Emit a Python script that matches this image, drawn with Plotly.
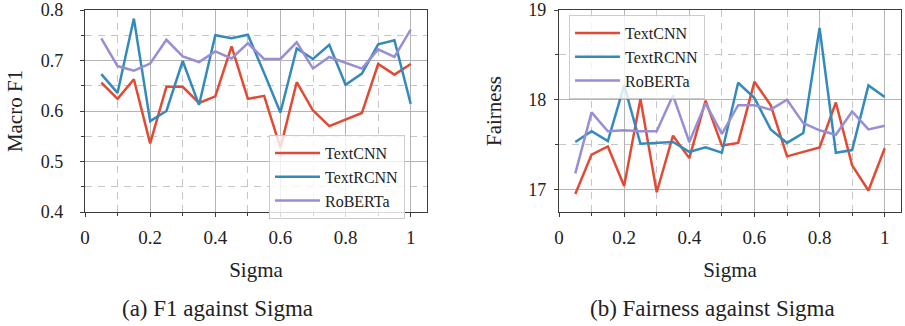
import plotly.graph_objects as go

# ---------------- data ----------------
sigma = [0.05, 0.10, 0.15, 0.20, 0.25, 0.30, 0.35, 0.40, 0.45, 0.50,
         0.55, 0.60, 0.65, 0.70, 0.75, 0.80, 0.85, 0.90, 0.95, 1.00]

f1_textcnn = [0.656, 0.624, 0.663, 0.536, 0.648, 0.648, 0.616, 0.629, 0.728, 0.624,
              0.630, 0.527, 0.657, 0.601, 0.570, 0.583, 0.596, 0.693, 0.672, 0.693]
f1_textrcnn = [0.673, 0.636, 0.783, 0.580, 0.600, 0.699, 0.612, 0.750, 0.744, 0.751,
               0.675, 0.597, 0.724, 0.703, 0.731, 0.652, 0.674, 0.732, 0.740, 0.614]
f1_roberta = [0.744, 0.689, 0.680, 0.694, 0.741, 0.708, 0.697, 0.718, 0.704, 0.734,
              0.703, 0.703, 0.736, 0.684, 0.707, 0.695, 0.684, 0.722, 0.707, 0.761]

fair_textcnn = [16.95, 17.39, 17.48, 17.04, 18.01, 16.97, 17.60, 17.35, 17.99, 17.49,
                17.52, 18.20, 17.94, 17.37, 17.42, 17.47, 17.97, 17.27, 16.99, 17.46]
fair_textrcnn = [17.53, 17.65, 17.54, 18.16, 17.51, 17.52, 17.53, 17.42, 17.47, 17.41,
                 18.19, 18.02, 17.67, 17.52, 17.63, 18.80, 17.41, 17.44, 18.16, 18.03]
fair_roberta = [17.18, 17.86, 17.65, 17.66, 17.65, 17.65, 18.05, 17.53, 17.96, 17.62,
                17.94, 17.94, 17.89, 18.00, 17.74, 17.66, 17.61, 17.87, 17.67, 17.71]

model_names = ["TextCNN", "TextRCNN", "RoBERTa"]
x_title = "Sigma"
y_titles = ["Macro F1", "Fairness"]
captions = ["(a) F1 against Sigma", "(b) Fairness against Sigma"]

# ---------------- style ----------------
colors = ["#E24A33", "#348ABD", "#988ED5"]
FONT = "Liberation Serif, Times New Roman, serif"
TXT = "#222222"
W, H = 905, 326
TOP, BOT = 10, 212

fig = go.Figure()

f1_series = [f1_textcnn, f1_textrcnn, f1_roberta]
fair_series = [fair_textcnn, fair_textrcnn, fair_roberta]

for name, ys, c in zip(model_names, f1_series, colors):
    fig.add_trace(go.Scatter(x=sigma, y=ys, mode="lines", name=name,
                             line=dict(color=c, width=2.5),
                             xaxis="x", yaxis="y", legend="legend"))
for name, ys, c in zip(model_names, fair_series, colors):
    fig.add_trace(go.Scatter(x=sigma, y=ys, mode="lines", name=name,
                             line=dict(color=c, width=2.5),
                             xaxis="x2", yaxis="y2", legend="legend2"))


def xaxis_style(domain, anchor):
    return dict(
        domain=domain, anchor=anchor, range=[0, 1.05],
        tick0=0, dtick=0.2, tickformat="~g",
        showgrid=True, gridcolor="#b4b4b4", gridwidth=1.1,
        zeroline=False,
        showline=True, mirror=True, linecolor="#3c3c3c", linewidth=1.3,
        ticks="outside", ticklen=4, tickcolor="#3c3c3c", tickwidth=1.1,
        ticklabelstandoff=4, ticklabeloverflow="allow",
        tickfont=dict(family=FONT, size=19, color=TXT),
        minor=dict(dtick=0.1, tick0=0, showgrid=True, gridcolor="#c6c6c6",
                   griddash="7px,6px", gridwidth=1.1,
                   ticks="outside", ticklen=3, tickcolor="#3c3c3c"),
        title=dict(text=x_title, font=dict(family=FONT, size=21, color=TXT),
                   standoff=15),
        automargin=False,
    )


def yaxis_style(domain, anchor, rng, tick0, dtick, mdtick, standoff, tstand):
    return dict(
        domain=domain, anchor=anchor, range=rng,
        tick0=tick0, dtick=dtick, tickformat="~g",
        showgrid=True, gridcolor="#b4b4b4", gridwidth=1.1,
        zeroline=False,
        showline=True, mirror=True, linecolor="#3c3c3c", linewidth=1.3,
        ticks="outside", ticklen=4, tickcolor="#3c3c3c", tickwidth=1.1,
        ticklabelstandoff=standoff, ticklabeloverflow="allow",
        tickfont=dict(family=FONT, size=18, color=TXT),
        minor=dict(dtick=mdtick, tick0=0, showgrid=True, gridcolor="#c6c6c6",
                   griddash="7px,6px", gridwidth=1.1,
                   ticks="outside", ticklen=3, tickcolor="#3c3c3c"),
        title=dict(font=dict(family=FONT, size=21, color=TXT), standoff=tstand),
        automargin=False,
    )


ydom = [1 - BOT / H, 1 - TOP / H]
ya1 = yaxis_style(ydom, "x", [0.4, 0.80001], 0.4, 0.1, 0.05, 13, 12)
ya1["title"]["text"] = y_titles[0]
ya2 = yaxis_style(ydom, "x2", [16.75, 19.0001], 17, 1, 0.5, 4, 20)
ya2["title"]["text"] = y_titles[1]

legend_common = dict(
    bgcolor="rgba(255,255,255,0.8)", bordercolor="#cccccc", borderwidth=1,
    font=dict(family=FONT, size=16, color=TXT),
    xanchor="left", yanchor="top", tracegroupgap=0, itemwidth=45,
)

fig.update_layout(
    width=W, height=H,
    margin=dict(l=0, r=0, t=0, b=0),
    paper_bgcolor="white", plot_bgcolor="white",
    font=dict(family=FONT, color=TXT),
    xaxis=xaxis_style([85 / W, 427 / W], "y"),
    yaxis=ya1,
    xaxis2=xaxis_style([559 / W, 901 / W], "y2"),
    yaxis2=ya2,
    legend=dict(x=269 / W, y=1 - 135 / H, **legend_common),
    legend2=dict(x=569 / W, y=1 - 15 / H, **legend_common),
    showlegend=True,
)

for cap, cx in zip(captions, [217 / W, 712 / W]):
    fig.add_annotation(text=cap, xref="paper", yref="paper", x=cx, y=1 - 308 / H,
                       xanchor="center", yanchor="middle", showarrow=False,
                       font=dict(family=FONT, size=23, color=TXT))

fig.write_html("out.html",
               config={"displayModeBar": False},
               post_script="document.body.style.margin='0';"
                           "document.body.style.overflow='hidden';")
